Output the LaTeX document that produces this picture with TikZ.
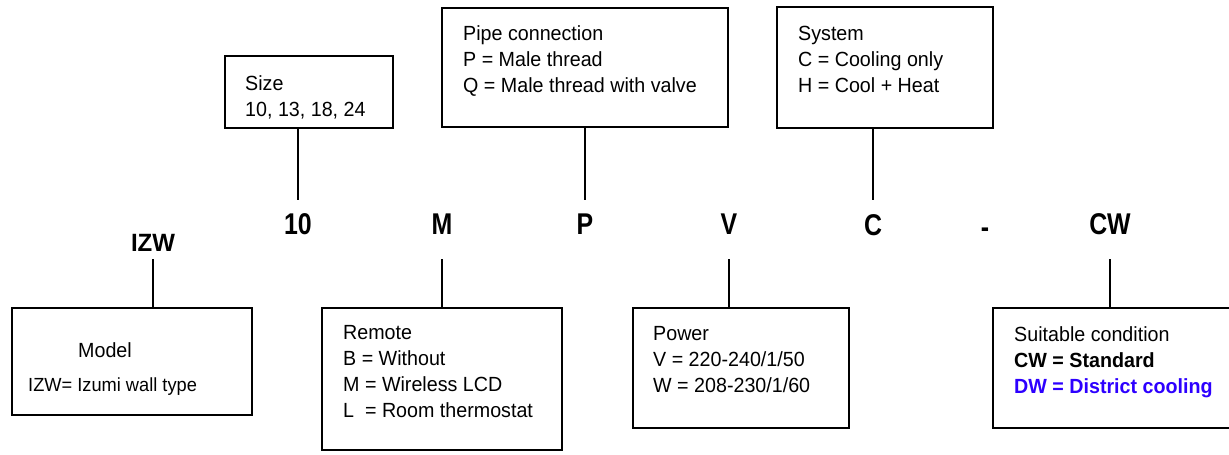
\documentclass[tikz,border=0pt]{standalone}
\usepackage{fontspec}
\setmainfont[FakeStretch=0.96]{Liberation Sans}
\newfontfamily\codefont[FakeStretch=0.83]{Liberation Sans}
\definecolor{dwblue}{RGB}{45,0,255}
\begin{document}
\begin{tikzpicture}[x=1pt,y=-1pt,
  box/.style={draw, line width=1.3pt, inner sep=0pt},
  txt/.style={anchor=north west, align=left, inner sep=0pt, font=\fontsize{20.5}{26}\selectfont},
  code/.style={inner sep=0pt, text height=21.5pt, text depth=0pt, font=\codefont\fontsize{30}{34}\selectfont\bfseries},
  conn/.style={line width=1.3pt}]
\useasboundingbox (0,0) rectangle (1229,455);
% boxes
\node[box, minimum width=240pt, minimum height=107pt] (model) at (132,361.5) {};
\node[box, minimum width=168pt, minimum height=72pt] (size) at (309,92) {};
\node[box, minimum width=286pt, minimum height=119pt] (pipe) at (585,67.5) {};
\node[box, minimum width=216pt, minimum height=121pt] (system) at (885,67.5) {};
\node[box, minimum width=240pt, minimum height=142pt] (remote) at (442,379) {};
\node[box, minimum width=216pt, minimum height=120pt] (power) at (741,368) {};
\node[box, minimum width=247pt, minimum height=120pt] (cond) at (1116.5,368) {};
% box texts
\node[txt] (tmodel) at (78,342) {Model};
\node[txt, font=\fontsize{19}{22}\selectfont] (tmodel2) at (28,378) {IZW= Izumi wall type};
\node[txt] (tsize) at (245,75) {Size\\10, 13, 18, 24};
\node[txt] (tpipe) at (463,25.5) {Pipe connection\\P = Male thread\\Q = Male thread with valve};
\node[txt] (tsys) at (798,25.5) {System\\C = Cooling only\\H = Cool + Heat};
\node[txt] (trem) at (343,325.5) {Remote\\B = Without\\M = Wireless LCD\\L~ = Room thermostat};
\node[txt] (tpow) at (653,326.5) {Power\\V = 220-240/1/50\\W = 208-230/1/60};
\node[txt] (tcond) at (1014,326.5) {Suitable condition\\\textbf{CW = Standard}\\\textcolor{dwblue}{\textbf{DW = District cooling}}};
% code letters
\node[code, text height=18pt, font=\fontsize{25}{30}\selectfont\bfseries] (lizw) at (153,242) {IZW};
\node[code] (l10) at (298,224) {10};
\node[code] (lm) at (442,224) {M};
\node[code] (lp) at (585,224) {P};
\node[code] (lv) at (729,224) {V};
\node[code] (lc) at (873,225) {C};
\node[code] (ldash) at (985,227) {-};
\node[code] (lcw) at (1110,224) {CW};
% connectors
\draw[conn, shorten <=13.25pt] (l10.north) -- (l10.north |- size.south);
\draw[conn, shorten <=13.25pt] (lp.north) -- (lp.north |- pipe.south);
\draw[conn, shorten <=14.25pt] (lc.north) -- (lc.north |- system.south);
\draw[conn, shorten <=8pt] (lizw.south) -- (lizw.south |- model.north);
\draw[conn, shorten <=24.25pt] (lm.south) -- (lm.south |- remote.north);
\draw[conn, shorten <=24.25pt] (lv.south) -- (lv.south |- power.north);
\draw[conn, shorten <=24.25pt] (lcw.south) -- (lcw.south |- cond.north);
\end{tikzpicture}
\end{document}
